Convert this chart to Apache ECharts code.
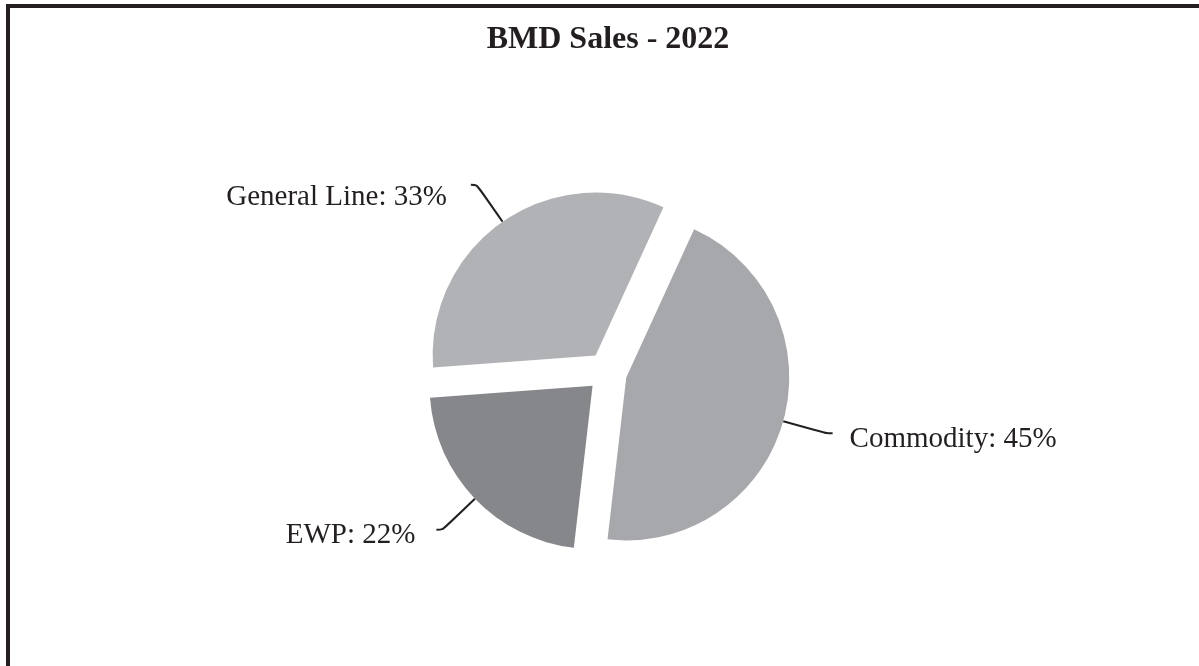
<!DOCTYPE html>
<html>
<head>
<meta charset="utf-8">
<script src="https://cdn.jsdelivr.net/npm/echarts@6/dist/echarts.min.js"></script>
<style>
html,body{margin:0;padding:0;background:#fff;}
#chart{width:1199px;height:666px;}
#frame{position:absolute;left:6px;top:4px;width:1300px;height:800px;border-top:4px solid #231f20;border-left:4px solid #231f20;pointer-events:none;}
</style>
</head>
<body>
<div id="chart"></div>
<div id="frame"></div>
<script>
const titleText = 'BMD Sales - 2022';
const categories = ['Commodity', 'EWP', 'General Line'];
const shares = [45, 22, 33];
const colors = ['#a7a8ab', '#86878b', '#b1b2b5'];
const labelGaps = [17, 21, 24];
const labelLineHeights = [12, 12, 26];

const chart = echarts.init(document.getElementById('chart'), null, {renderer: 'canvas'});
const data = categories.map((c, i) => ({
  name: c,
  value: shares[i],
  selected: true,
  itemStyle: {color: colors[i]},
  select: {itemStyle: {color: colors[i]}},
  label: {distanceToLabelLine: labelGaps[i], lineHeight: labelLineHeights[i]}
}));
chart.setOption({
  animation: false,
  backgroundColor: '#ffffff',
  title: {
    text: titleText,
    left: 603,
    textAlign: 'center',
    top: 19,
    textStyle: {fontFamily: 'Liberation Serif', fontWeight: 'bold', fontSize: 32, color: '#231f20'}
  },
  series: [{
    type: 'pie',
    center: [607, 372],
    radius: [0, 163],
    startAngle: 65.4,
    clockwise: true,
    selectedMode: 'multiple',
    selectedOffset: 20,
    avoidLabelOverlap: false,
    emphasis: {disabled: true},
    itemStyle: {borderWidth: 0},
    label: {
      show: true,
      position: 'outside',
      formatter: '\n{b}: {c}%',
      fontFamily: 'Liberation Serif',
      fontSize: 29,
      color: '#231f20'
    },
    labelLine: {
      show: true,
      length: 45,
      length2: 6,
      smooth: true,
      lineStyle: {color: '#231f20', width: 2}
    },
    data: data
  }]
});
</script>
</body>
</html>
